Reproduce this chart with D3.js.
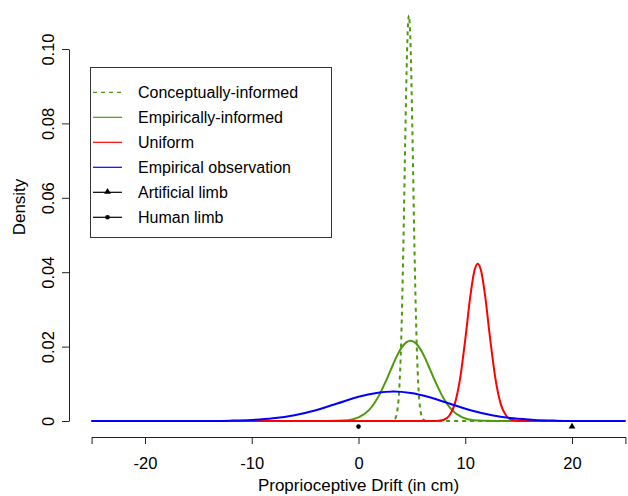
<!DOCTYPE html>
<html>
<head>
<meta charset="utf-8">
<script src="https://cdn.jsdelivr.net/npm/d3@7"></script>
<style>
  body { margin: 0; background: #fff; }
  svg { display: block; font-family: "Liberation Sans", Arial, sans-serif; }
</style>
</head>
<body>
<svg id="chart" width="628" height="496"></svg>
<script>
(function() {

  // curves: [drift, density]
  var conceptual = [[-25,0],[3.0,0],[3.4,0.0005],[3.6,0.0022],[3.8,0.0077],[4.0,0.0216],[4.2,0.0468],[4.4,0.0791],
    [4.55,0.0996],[4.72,0.109],[4.89,0.0996],[5.04,0.0791],[5.24,0.0468],[5.44,0.0216],[5.64,0.0077],
    [5.84,0.0022],[6.04,0.0005],[6.44,0],[25,0]];
  var empirical = [[-25,0],[-3,0],[-1,0.0002],[0,0.00095],[1,0.003],[1.5,0.00485],[2,0.0073],[2.5,0.0103],
    [3,0.0136],[3.5,0.0169],[4,0.0196],[4.5,0.0212],[4.87,0.0216],[5.24,0.0212],[5.74,0.0196],[6.24,0.0169],
    [6.74,0.0136],[7.24,0.0103],[7.74,0.0073],[8.24,0.00485],[8.74,0.003],[9.74,0.00095],[10.74,0.0002],
    [12.74,0],[25,0]];
  var uniform = [[-25,0],[7.0,0],[7.5,0.00007],[8,0.00034],[8.5,0.0014],[9,0.0044],[9.5,0.0111],[10,0.0219],
    [10.5,0.0341],[10.85,0.0403],[11.17,0.0423],[11.49,0.0403],[11.84,0.0341],[12.34,0.0219],[12.84,0.0111],
    [13.34,0.0044],[13.84,0.0014],[14.34,0.00034],[14.84,0.00007],[15.34,0],[25,0]];
  var observed = [[-25,0],[-20,0],[-16,0.00001],[-14,0.00003],[-12,0.0001],[-10,0.00028],[-8,0.00071],
    [-6,0.00155],[-4,0.0029],[-2,0.0047],[0,0.0065],[1.7,0.0075],[3.3,0.0079],[4.9,0.0075],[6.5,0.0065],
    [8.5,0.0047],[10.5,0.0029],[12.5,0.00155],[14.5,0.00071],[16.5,0.00028],[18.5,0.0001],[20.5,0.00003],
    [22.5,0.00001],[25,0]];

  var artificialLimb = [[20, -0.0015]];
  var humanLimb = [[0, -0.0015]];

  var xTicks = [-25, -20, -10, 0, 10, 20, 25];
  var xLabels = ['', '-20', '-10', '0', '10', '20', ''];
  var yTicks = [0, 0.02, 0.04, 0.06, 0.08, 0.10];
  var yLabels = ['0', '0.02', '0.04', '0.06', '0.08', '0.10'];

  var legendNames = ['Conceptually-informed', 'Empirically-informed', 'Uniform',
    'Empirical observation', 'Artificial limb', 'Human limb'];

  var green = '#4e9a0e';
  var red = '#ff0000';
  var blue = '#0000ff';

  var svg = d3.select('#chart');

  var x = d3.scaleLinear().domain([-25, 25]).range([91.6, 625.4]);
  var y = d3.scaleLinear().domain([0, 0.1]).range([421, 49]);

  // x axis
  var xAxis = svg.append('g')
    .attr('transform', 'translate(0,437)')
    .call(d3.axisBottom(x).tickValues(xTicks).tickSize(7).tickSizeOuter(0)
      .tickFormat(function(d, i) { return xLabels[i]; }));
  xAxis.select('.domain').attr('stroke', '#222');
  xAxis.selectAll('line').attr('stroke', '#222');
  xAxis.selectAll('text')
    .attr('font-size', 16.5)
    .attr('font-family', '"Liberation Sans", Arial, sans-serif')
    .attr('fill', '#000')
    .attr('y', 20).attr('dy', '0.71em');

  // y axis
  var yAxis = svg.append('g')
    .attr('transform', 'translate(69,0)')
    .call(d3.axisLeft(y).tickValues(yTicks).tickSize(7).tickSizeOuter(0)
      .tickFormat(function(d, i) { return yLabels[i]; }));
  yAxis.select('.domain').attr('stroke', '#222');
  yAxis.selectAll('line').attr('stroke', '#222');
  yAxis.selectAll('text')
    .attr('font-size', 16.5)
    .attr('font-family', '"Liberation Sans", Arial, sans-serif')
    .attr('fill', '#000')
    .attr('text-anchor', 'middle')
    .attr('transform', 'rotate(-90)')
    .attr('x', 0).attr('y', -15).attr('dy', 0);

  // axis titles
  svg.append('text')
    .attr('x', 358.5).attr('y', 491)
    .attr('text-anchor', 'middle')
    .attr('font-size', 17)
    .text('Proprioceptive Drift (in cm)');
  svg.append('text')
    .attr('transform', 'translate(25,207) rotate(-90)')
    .attr('text-anchor', 'middle')
    .attr('font-size', 17)
    .text('Density');

  var line = d3.line()
    .x(function(d) { return x(d[0]); })
    .y(function(d) { return y(d[1]); })
    .curve(d3.curveMonotoneX);

  // draw order: dashed, green, red, blue
  svg.append('path').datum(conceptual)
    .attr('d', line).attr('fill', 'none')
    .attr('stroke', green).attr('stroke-width', 2).attr('stroke-dasharray', '4,4');
  svg.append('path').datum(empirical)
    .attr('d', line).attr('fill', 'none')
    .attr('stroke', green).attr('stroke-width', 2);
  svg.append('path').datum(uniform)
    .attr('d', line).attr('fill', 'none')
    .attr('stroke', red).attr('stroke-width', 2);
  svg.append('path').datum(observed)
    .attr('d', line).attr('fill', 'none')
    .attr('stroke', blue).attr('stroke-width', 2);

  // limb markers
  var tri = d3.symbol().type(d3.symbolTriangle).size(20);
  svg.selectAll('.artificial').data(artificialLimb).enter().append('path')
    .attr('class', 'artificial')
    .attr('d', tri)
    .attr('transform', function(d) { return 'translate(' + x(d[0]) + ',' + y(d[1]) + ')'; })
    .attr('fill', '#000');
  svg.selectAll('.human').data(humanLimb).enter().append('circle')
    .attr('class', 'human')
    .attr('cx', function(d) { return x(d[0]); })
    .attr('cy', function(d) { return y(d[1]); })
    .attr('r', 2.3)
    .attr('fill', '#000');

  // legend
  var legend = svg.append('g').attr('transform', 'translate(90,67)');
  legend.append('rect')
    .attr('x', 0.5).attr('y', 0.5).attr('width', 241).attr('height', 170)
    .attr('fill', '#fff').attr('stroke', '#333').attr('stroke-width', 1);

  var legendStroke = [green, green, red, blue, '#000', '#000'];
  var legendDash = ['4,4', null, null, null, null, null];

  var rows = legend.selectAll('.row').data(legendNames).enter().append('g')
    .attr('class', 'row')
    .attr('transform', function(d, i) { return 'translate(0,' + (25.3 + i * 25) + ')'; });
  rows.append('line')
    .attr('x1', 3).attr('x2', 32).attr('y1', 0).attr('y2', 0)
    .attr('stroke', function(d, i) { return legendStroke[i]; })
    .attr('stroke-width', 1.2)
    .attr('stroke-dasharray', function(d, i) { return legendDash[i]; });
  rows.append('text')
    .attr('x', 48).attr('y', 0).attr('dy', '0.35em')
    .attr('font-size', 16)
    .text(function(d) { return d; });

  rows.filter(function(d, i) { return i === 4; }).append('path')
    .attr('d', tri).attr('transform', 'translate(17.5,-0.5)').attr('fill', '#000');
  rows.filter(function(d, i) { return i === 5; }).append('circle')
    .attr('cx', 17.5).attr('cy', 0).attr('r', 2.3).attr('fill', '#000');

})();
</script>
</body>
</html>
